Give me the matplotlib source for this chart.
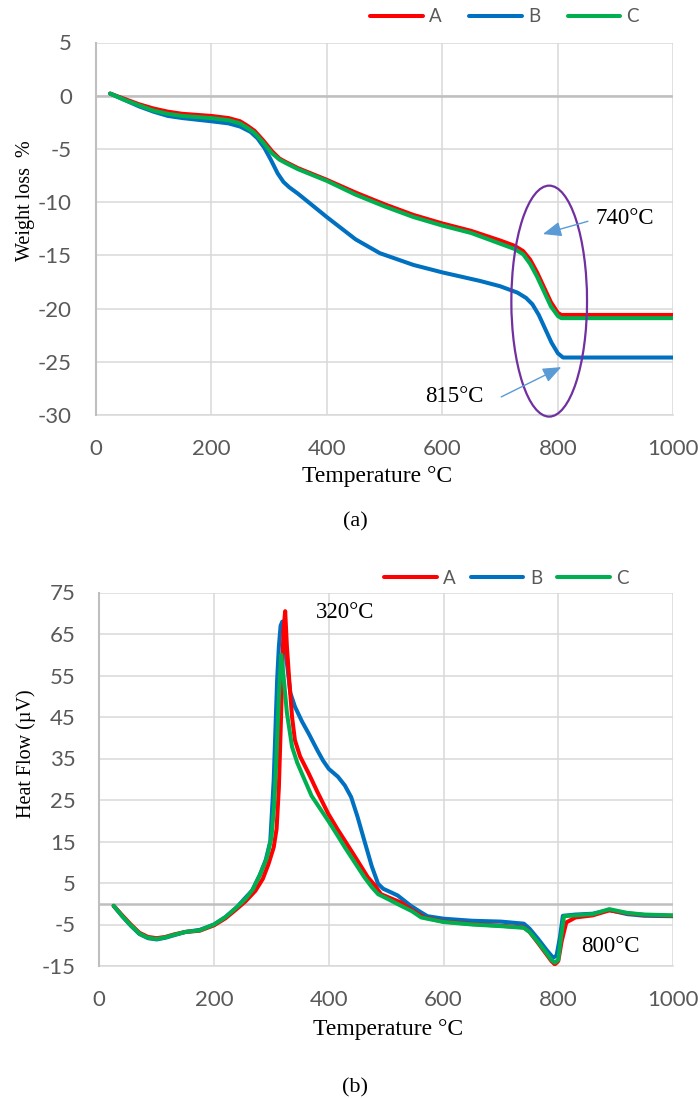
import matplotlib
matplotlib.use("Agg")
import matplotlib.pyplot as plt
from matplotlib.patches import Ellipse

plt.rcParams["axes.unicode_minus"] = False

# ---------------- data: (a) weight loss ----------------
tg_A_T = [25, 50, 75, 100, 125, 150, 200, 230, 250, 262, 275, 290, 305, 318, 328, 350, 400, 450, 500, 550, 600, 650, 700, 725, 740, 752, 764, 776, 788, 800, 806, 850, 900, 950, 1000]
tg_A = [0.2, -0.3, -0.8, -1.2, -1.5, -1.7, -1.9, -2.1, -2.4, -2.8, -3.3, -4.2, -5.2, -5.9, -6.2, -6.8, -7.9, -9.1, -10.2, -11.2, -12.0, -12.7, -13.6, -14.1, -14.6, -15.4, -16.6, -18.0, -19.4, -20.4, -20.6, -20.6, -20.6, -20.6, -20.6]
tg_C_T = tg_A_T
tg_C = [0.2, -0.4, -0.9, -1.4, -1.7, -1.9, -2.1, -2.3, -2.6, -3.0, -3.5, -4.4, -5.4, -6.0, -6.3, -6.9, -8.0, -9.3, -10.4, -11.4, -12.2, -12.9, -13.9, -14.4, -14.9, -15.8, -17.0, -18.4, -19.8, -20.7, -20.9, -20.9, -20.9, -20.9, -20.9]
tg_B_T = [25, 50, 75, 100, 125, 150, 200, 230, 250, 268, 280, 292, 303, 315, 325, 335, 350, 366, 400, 450, 492, 550, 600, 665, 700, 730, 745, 756, 767, 778, 789, 800, 809, 850, 900, 950, 1000]
tg_B = [0.2, -0.4, -1.0, -1.5, -1.9, -2.1, -2.4, -2.6, -2.9, -3.4, -4.0, -4.9, -6.0, -7.3, -8.1, -8.6, -9.2, -9.9, -11.4, -13.5, -14.8, -15.9, -16.6, -17.4, -17.9, -18.5, -19.0, -19.6, -20.6, -21.9, -23.2, -24.2, -24.6, -24.6, -24.6, -24.6, -24.6]

# ---------------- data: (b) heat flow ----------------
hf_A_T = [25, 40, 55, 70, 85, 100, 115, 130, 150, 175, 200, 220, 240, 255, 272, 285, 295, 304, 309, 313, 317, 321, 324, 327, 331, 336, 341, 350, 365, 380, 399, 415, 428, 445, 468, 480, 491, 510, 526, 545, 566, 600, 650, 700, 740, 750, 765, 780, 788, 794, 800, 806, 814, 830, 860, 889, 920, 950, 1000]
hf_A = [-0.5, -2.8, -5.0, -7.0, -8.0, -8.3, -8.0, -7.4, -6.8, -6.5, -5.2, -3.5, -1.2, 0.6, 3.1, 6.0, 9.6, 13.6, 18, 28, 46, 66, 70.5, 62, 54, 45, 39.4, 35.5, 31.4, 27, 21.7, 18, 15.2, 11.5, 6.4, 4.5, 2.3, 1.2, 0.3, -1.5, -3.3, -4.3, -4.9, -5.3, -5.7, -6.8, -9.5, -12.3, -13.8, -14.6, -13.8, -9, -4.5, -3.3, -2.8, -1.6, -2.3, -2.7, -2.9]
hf_B_T = [25, 40, 55, 70, 85, 100, 115, 130, 150, 175, 200, 220, 240, 255, 266, 280, 290, 298, 304, 307, 310, 313, 316, 319, 322, 327, 333, 341, 353, 365, 380, 390, 400, 416, 428, 439, 450, 462, 475, 486, 495, 503, 520, 543, 560, 572, 600, 650, 700, 740, 750, 765, 780, 791, 797, 803, 808, 830, 860, 889, 920, 950, 1000]
hf_B = [-0.5, -3.0, -5.3, -7.3, -8.3, -8.6, -8.2, -7.6, -6.8, -6.3, -5.0, -3.2, -0.8, 1.5, 3.1, 7.0, 10.5, 15, 29.8, 42, 54, 62, 67, 68, 66, 58, 50.8, 47.5, 44, 41, 37, 34.5, 32.5, 30.6, 28.5, 25.7, 21, 15.2, 9, 4.8, 3.6, 3.1, 2.0, -0.5, -2.0, -3.0, -3.6, -4.1, -4.3, -4.8, -6.0, -8.5, -11.2, -13.0, -12.5, -8, -2.9, -2.6, -2.4, -1.5, -2.5, -2.9, -3.0]
hf_C_T = [25, 40, 55, 70, 85, 100, 115, 130, 150, 175, 200, 220, 240, 255, 268, 280, 292, 300, 305, 309, 313, 317, 321, 327, 336, 345, 353, 370, 399, 415, 428, 445, 462, 475, 486, 505, 526, 545, 561, 600, 650, 700, 740, 750, 765, 780, 788, 794, 800, 805, 810, 830, 860, 889, 920, 950, 1000]
hf_C = [-0.5, -3.0, -5.2, -7.2, -8.2, -8.5, -8.1, -7.5, -6.8, -6.4, -5.0, -3.2, -0.8, 1.2, 3.5, 7.0, 11.0, 16, 24, 36, 50, 60, 55, 46, 37.8, 34, 31.4, 26, 20, 16.5, 13.6, 10, 6.4, 4, 2.3, 1.0, -0.5, -1.8, -3.3, -4.4, -5.0, -5.4, -5.8, -6.8, -9.3, -12.0, -13.5, -14.2, -13.5, -8, -3.0, -2.8, -2.5, -1.3, -2.2, -2.6, -2.8]

series_names = ["A", "B", "C"]
colors = {"A": "#FF0000", "B": "#0070C0", "C": "#00B050"}

x_ticks = [0, 200, 400, 600, 800, 1000]
tg_yticks = [5, 0, -5, -10, -15, -20, -25, -30]
hf_yticks = [75, 65, 55, 45, 35, 25, 15, 5, -5, -15]

TICK_FONT = ["Lato", "DejaVu Sans"]
SERIF = ["Liberation Serif", "DejaVu Serif"]
TICK_COLOR = "#595959"
GRID = "#D9D9D9"
AXIS = "#BFBFBF"

W, H = 700, 1099
fig = plt.figure(figsize=(W / 100, H / 100), dpi=100)


def px_axes(l, r, t, b):
    return fig.add_axes([l / W, 1 - b / H, (r - l) / W, (b - t) / H])


def style(ax, ylim, yticks):
    ax.set_xlim(0, 1000)
    ax.set_ylim(*ylim)
    ax.set_xticks(x_ticks)
    ax.set_yticks(yticks)
    ax.grid(True, color=GRID, lw=1.1, zorder=0)
    ax.set_axisbelow(True)
    for s in ["top", "right", "bottom"]:
        ax.spines[s].set_visible(False)
    ax.spines["left"].set_color(AXIS)
    ax.spines["left"].set_linewidth(1.5)
    ax.axhline(0, color=AXIS, lw=1.8, zorder=1)
    ax.axhline(ylim[0], color=GRID, lw=1.1, zorder=1, clip_on=False)
    ax.tick_params(length=0, pad=17, labelsize=16, labelcolor=TICK_COLOR)
    for lab in ax.get_xticklabels() + ax.get_yticklabels():
        lab.set_fontfamily(TICK_FONT)


# ---------------- (a) ----------------
ax1 = px_axes(95.7, 673.4, 42.5, 415)
style(ax1, (-30, 5), tg_yticks)
tg = {"A": (tg_A_T, tg_A), "B": (tg_B_T, tg_B), "C": (tg_C_T, tg_C)}
lines1 = []
for name in series_names:
    t, v = tg[name]
    ln, = ax1.plot(t, v, color=colors[name], lw=2.9, solid_capstyle="round",
                   solid_joinstyle="round", label=name, zorder=3)
    lines1.append(ln)

ax1.add_patch(Ellipse((785, -19.3), 131, 21.7, fill=False, ec="#7030A0",
                      lw=1.6, zorder=5, clip_on=False))
arrow_kw = dict(arrowstyle="-|>,head_length=0.75,head_width=0.3",
                color="#5B9BD5", lw=1.0, mutation_scale=15, shrinkA=0, shrinkB=0)
ax1.annotate("", xy=(774, -13.0), xytext=(852, -11.8), arrowprops=arrow_kw, zorder=6)
ax1.annotate("", xy=(806, -25.5), xytext=(702, -28.3), arrowprops=arrow_kw, zorder=6)
ax1.text(866, -11.5, "740°C", family=SERIF, fontsize=16.5, ha="left", va="center")
ax1.text(672, -28.3, "815°C", family=SERIF, fontsize=16.5, ha="right", va="center")

fig.text(377 / W, 1 - 476.7 / H, "Temperature °C", family=SERIF, fontsize=17,
         ha="center", va="center")
fig.text(25.7 / W, 1 - 201 / H, "Weight loss  %", family=SERIF, fontsize=14.5,
         ha="center", va="center", rotation=90)
fig.text(355 / W, 1 - 521.7 / H, "(a)", family=SERIF, fontsize=16,
         ha="center", va="center")

leg_kw = dict(frameon=False, ncol=3, handlelength=2.8, handletextpad=0.35,
              borderpad=0, borderaxespad=0, labelcolor=TICK_COLOR,
              prop={"family": TICK_FONT, "size": 13.5})
fig.legend(handles=lines1, loc="center left", bbox_to_anchor=(370 / W, 1 - 17 / H),
           columnspacing=1.45, **leg_kw)

# ---------------- (b) ----------------
ax2 = px_axes(99.3, 673, 592.5, 966)
style(ax2, (-15, 75), hf_yticks)
hf = {"A": (hf_A_T, hf_A), "B": (hf_B_T, hf_B), "C": (hf_C_T, hf_C)}
lines2 = {}
for name in ["B", "A", "C"]:
    t, v = hf[name]
    ln, = ax2.plot(t, v, color=colors[name], lw=2.9, solid_capstyle="round",
                   solid_joinstyle="round", label=name, zorder=3)
    lines2[name] = ln
ax2.text(377, 70.1, "320°C", family=SERIF, fontsize=16.5, ha="left", va="center")
ax2.text(840, -10.2, "800°C", family=SERIF, fontsize=16.5, ha="left", va="center")

fig.text(388 / W, 1 - 1030 / H, "Temperature °C", family=SERIF, fontsize=17,
         ha="center", va="center")
fig.text(25.7 / W, 1 - 754 / H, "Heat Flow (µV)", family=SERIF, fontsize=14.5,
         ha="center", va="center", rotation=90)
fig.text(355 / W, 1 - 1088 / H, "(b)", family=SERIF, fontsize=16,
         ha="center", va="center")
fig.legend(handles=[lines2[n] for n in series_names], loc="center left",
           bbox_to_anchor=(384 / W, 1 - 578 / H), columnspacing=0.8, **leg_kw)

fig.savefig("out.png", dpi=100)
